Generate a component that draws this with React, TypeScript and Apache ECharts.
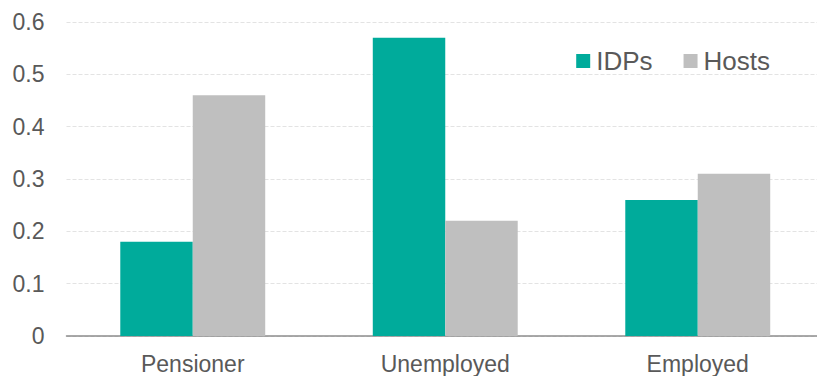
import React, { useEffect, useRef } from "react";
import * as echarts from "echarts";

const categories = ["Pensioner", "Unemployed", "Employed"];
const idps = [0.18, 0.57, 0.26];
const hosts = [0.46, 0.22, 0.31];
const seriesNames = ["IDPs", "Hosts"];

export default function App() {
  const ref = useRef<HTMLDivElement>(null);
  useEffect(() => {
    document.body.style.margin = "0";
    document.body.style.overflow = "hidden";
    const chart = echarts.init(ref.current!, null, { renderer: "svg" });
    const font = "'Liberation Sans', Arial, sans-serif";
    chart.setOption({
      animation: false,
      grid: { left: 66.5, right: 0, top: 22, bottom: 40, containLabel: false },
      legend: {
        right: 49,
        top: 43,
        itemWidth: 14,
        itemHeight: 14,
        itemGap: 31,
        icon: "rect",
        data: seriesNames,
        textStyle: { fontSize: 26, color: "#595959", fontFamily: font, padding: [0, 0, 0, 1] },
      },
      xAxis: {
        type: "category",
        data: categories,
        axisLine: { lineStyle: { color: "#8c8c8c", width: 1.5 } },
        axisTick: { show: false },
        axisLabel: { fontSize: 23, color: "#595959", fontFamily: font, margin: 16 },
      },
      yAxis: {
        type: "value",
        min: 0,
        max: 0.6,
        interval: 0.1,
        axisLine: { show: false },
        axisTick: { show: false },
        axisLabel: { fontSize: 23, color: "#595959", fontFamily: font, margin: 22 },
        splitLine: { lineStyle: { color: "#e3e3e3", type: "dashed", width: 1 } },
      },
      series: [
        {
          name: seriesNames[0],
          type: "bar",
          data: idps,
          barGap: "0%",
          barCategoryGap: "42.6%",
          itemStyle: { color: "#00AB9B" },
        },
        {
          name: seriesNames[1],
          type: "bar",
          data: hosts,
          barGap: "0%",
          barCategoryGap: "42.6%",
          itemStyle: { color: "#BFBFBF" },
        },
      ],
    });
    return () => chart.dispose();
  }, []);
  return (
    <div style={{ width: 817, height: 376, overflow: "hidden" }}>
      <div ref={ref} style={{ width: 824, height: 376 }} />
    </div>
  );
}
